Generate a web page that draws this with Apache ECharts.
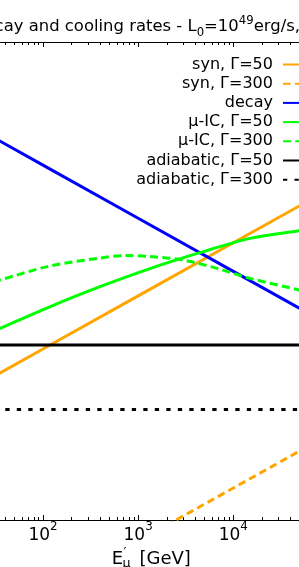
<!DOCTYPE html>
<html><head><meta charset="utf-8">
<script src="https://cdn.jsdelivr.net/npm/echarts@6/dist/echarts.min.js"></script>
<style>html,body{margin:0;padding:0;background:#fff}#c{width:299px;height:567px}</style>
</head><body><div id="c"></div>
<script>
// ---- data ----
const xTickValues = [100, 1000, 10000];
const xMinorTickValues = [20,30,40,50,60,70,80,90,200,300,400,500,600,700,800,900,
  2000,3000,4000,5000,6000,7000,8000,9000,20000,30000,40000,50000,60000,70000,80000,90000];
const xRange = [10, 100000];
const yRange = [1e-4, 1e5];

const energyLine = [10, 100, 1000, 10000, 100000];
const decayRate = [4809, 481, 48.1, 4.81, 0.481];
const synRate50 = [0.0166, 0.166, 1.66, 16.6, 166];
const synRate300 = [4.0e-7, 4.0e-6, 4.0e-5, 4.0e-4, 4.0e-3];
const adiabaticRate50 = [0.197, 0.197, 0.197, 0.197, 0.197];
const adiabaticRate300 = [0.0121, 0.0121, 0.0121, 0.0121, 0.0121];

const energyIC50 = [30, 35.3, 118, 397, 1331, 4457, 14930, 48900, 55000];
const icRate50 = [0.357, 0.406, 1.035, 2.47, 5.42, 10.8, 20.1, 27.9, 28.8];
const energyIC300 = [30, 35.3, 118, 397, 726, 1331, 2958, 6730, 14930, 48900, 55000];
const icRate300 = [3.03, 3.30, 6.05, 8.55, 9.53, 9.13, 7.85, 5.47, 3.55, 2.14, 2.0];

const seriesNames = ['syn, Γ=50', 'syn, Γ=300', 'decay', 'μ-IC, Γ=50', 'μ-IC, Γ=300', 'adiabatic, Γ=50', 'adiabatic, Γ=300'];

// ---- chart ----
const FONT = 'DejaVu Sans';
const pair = (xs, ys) => xs.map((x, i) => [x, ys[i]]);
const chart = echarts.init(document.getElementById('c'), null, {renderer: 'canvas'});

function mk(name, xs, ys, color, dash, smooth) {
  return {
    name: name, type: 'line', xAxisIndex: 0, yAxisIndex: 0,
    data: pair(xs, ys), symbol: 'none', smooth: smooth || false,
    lineStyle: {color: color, width: 3, type: dash || 'solid', cap: 'butt'},
    itemStyle: {color: color},
    emphasis: {disabled: true}, animation: false
  };
}

const gridRect = {left: -52.2, right: -29.5, top: 42, bottom: 47, outerBoundsMode: 'none', containLabel: false};
const tickLine = {color: '#000', width: 1};

const option = {
  animation: false,
  backgroundColor: '#fff',
  textStyle: {fontFamily: FONT},
  grid: [Object.assign({}, gridRect), Object.assign({}, gridRect)],
  xAxis: [
    {type: 'log', logBase: 10, gridIndex: 0, position: 'bottom', min: xRange[0], max: xRange[1],
     axisLine: {show: true, lineStyle: {color: '#000', width: 1}},
     axisTick: {show: true, inside: true, length: 5, customValues: xTickValues, lineStyle: tickLine},
     axisLabel: {show: true, customValues: xTickValues, margin: 1, color: '#000', fontFamily: FONT,
       formatter: v => '{b|10}{s|' + Math.round(Math.log10(v)) + '}',
       rich: {b: {fontSize: 17, lineHeight: 30, fontFamily: FONT, color: '#000'},
              s: {fontSize: 11.9, lineHeight: 12, verticalAlign: 'top', fontFamily: FONT, color: '#000'}}},
     splitLine: {show: false}, minorTick: {show: false}},
    {type: 'log', logBase: 10, gridIndex: 0, position: 'top', min: xRange[0], max: xRange[1],
     axisLine: {show: true, lineStyle: {color: '#000', width: 1}},
     axisTick: {show: true, inside: true, length: 5, customValues: xTickValues, lineStyle: tickLine},
     axisLabel: {show: false}, splitLine: {show: false}},
    {type: 'log', logBase: 10, gridIndex: 1, position: 'bottom', min: xRange[0], max: xRange[1],
     axisLine: {show: false},
     axisTick: {show: true, inside: true, length: 3, customValues: xMinorTickValues, lineStyle: tickLine},
     axisLabel: {show: false}, splitLine: {show: false}},
    {type: 'log', logBase: 10, gridIndex: 1, position: 'top', min: xRange[0], max: xRange[1],
     axisLine: {show: false},
     axisTick: {show: true, inside: true, length: 3, customValues: xMinorTickValues, lineStyle: tickLine},
     axisLabel: {show: false}, splitLine: {show: false}}
  ],
  yAxis: [
    {type: 'log', logBase: 10, gridIndex: 0, min: yRange[0], max: yRange[1], show: false},
    {type: 'log', logBase: 10, gridIndex: 1, min: yRange[0], max: yRange[1], show: false}
  ],
  legend: {
    orient: 'vertical', align: 'right', right: -17, top: 56.5, padding: 0,
    itemWidth: 32, itemHeight: 14, itemGap: 3.2,
    itemStyle: {opacity: 0},
    formatter: n => n + ' ',
    textStyle: {fontFamily: FONT, fontSize: 16, lineHeight: 16, color: '#000'},
    data: seriesNames, selectedMode: false
  },
  series: [
    mk(seriesNames[0], energyLine, synRate50, '#ffa500'),
    mk(seriesNames[1], energyLine, synRate300, '#ffa500', [7.5, 4.4]),
    mk(seriesNames[2], energyLine, decayRate, '#0000ff'),
    mk(seriesNames[3], energyIC50, icRate50, '#00ff00', null, 0.3),
    mk(seriesNames[4], energyIC300, icRate300, '#00ff00', [8, 4.3], 0.3),
    mk(seriesNames[5], energyLine, adiabaticRate50, '#000000'),
    mk(seriesNames[6], energyLine, adiabaticRate300, '#000000', [4.3, 7.2])
  ],
  graphic: [
    {type: 'text', x: 300, y: 14.7, silent: true,
     style: {text: 'Muon decay and cooling rates - L{sub|0}=10{sup|49}erg/s,', align: 'right', verticalAlign: 'top',
       fontSize: 16.45, fontFamily: FONT, fill: '#000', lineHeight: 24,
       rich: {sub: {fontSize: 11.7, lineHeight: 14.6, verticalAlign: 'bottom', fontFamily: FONT},
              sup: {fontSize: 11.7, lineHeight: 16.4, verticalAlign: 'top', fontFamily: FONT}}}},
    {type: 'text', x: 111.7, y: 559.2, silent: true,
     style: {text: 'E', align: 'left', verticalAlign: 'middle', fontSize: 18, fontFamily: FONT, fill: '#000'}},
    {type: 'text', x: 123.5, y: 553, silent: true,
     style: {text: '′', align: 'left', verticalAlign: 'middle', fontSize: 12.6, fontFamily: FONT, fill: '#000'}},
    {type: 'text', x: 122.5, y: 563.5, silent: true,
     style: {text: 'μ', align: 'left', verticalAlign: 'middle', fontSize: 12.6, fontFamily: FONT, fill: '#000'}},
    {type: 'text', x: 139.5, y: 559.2, silent: true,
     style: {text: '[GeV]', align: 'left', verticalAlign: 'middle', fontSize: 18, fontFamily: FONT, fill: '#000'}}
  ]
};
chart.setOption(option);
</script></body></html>
